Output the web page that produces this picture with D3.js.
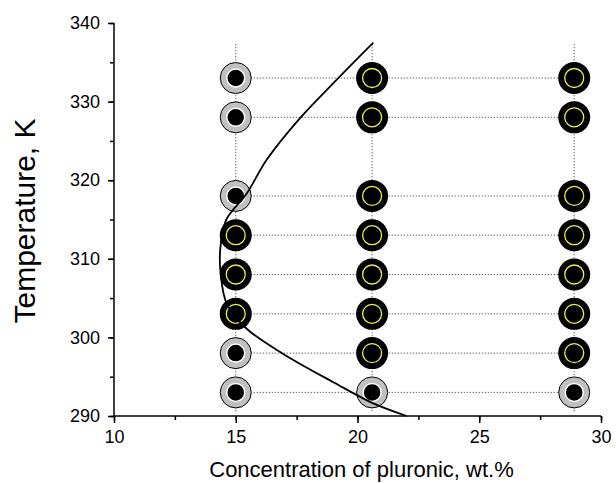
<!DOCTYPE html>
<html>
<head>
<meta charset="utf-8">
<script src="https://cdn.jsdelivr.net/npm/d3@7"></script>
<style>
  body { margin: 0; background: #fff; }
  text { font-family: "Liberation Sans", Arial, sans-serif; fill: #000; }
</style>
</head>
<body>
<div id="chart-container"></div>
<script>
// Chart data
const concentrations = [15, 20.6, 28.9];
const temperatures = [293, 298, 303, 308, 313, 318, 328, 333];
// phase of each point per column ("sol" = grey ring, "gel" = black with yellow ring)
const phase15 = ["sol", "sol", "gel", "gel", "gel", "sol", "sol", "sol"];
const phase206 = ["sol", "gel", "gel", "gel", "gel", "gel", "gel", "gel"];
const phase289 = ["sol", "gel", "gel", "gel", "gel", "gel", "gel", "gel"];
const phases = [phase15, phase206, phase289];

// boundary curve, read along its length
const curveConc = [20.65, 19.15, 17.64, 16.27, 15.45, 14.6, 14.36, 14.38, 14.63, 15.45, 16.95, 19.01, 20.65, 22.02];
const curveTemp = [337.5, 332.8, 327.9, 322.6, 318.3, 314.9, 311.1, 308.1, 304.3, 301.1, 297.9, 294.3, 291.6, 290.0];

const xTicks = [10, 15, 20, 25, 30];
const yTicks = [290, 300, 310, 320, 330, 340];

// Declare the chart dimensions and margins.
const width = 616;
const height = 483;
const marginTop = 23;
const marginRight = 15;
const marginBottom = 67;
const marginLeft = 114;

const x = d3.scaleLinear()
    .domain([10, 30])
    .range([marginLeft, width - marginRight]);

const y = d3.scaleLinear()
    .domain([290, 340])
    .range([height - marginBottom, marginTop]);

const svg = d3.create("svg")
    .attr("width", width)
    .attr("height", height);

// dotted guide lines
const guides = svg.append("g")
    .attr("stroke", "#333")
    .attr("stroke-width", 1)
    .attr("stroke-dasharray", "1,2");

guides.selectAll("line.h")
  .data(temperatures)
  .join("line")
    .attr("class", "h")
    .attr("x1", x(concentrations[0]))
    .attr("x2", x(concentrations[concentrations.length - 1]))
    .attr("y1", d => y(d))
    .attr("y2", d => y(d));

guides.selectAll("line.v")
  .data(concentrations)
  .join("line")
    .attr("class", "v")
    .attr("x1", d => x(d))
    .attr("x2", d => x(d))
    .attr("y1", y(337.3))
    .attr("y2", y(290.6));

// points
const points = [];
concentrations.forEach((c, i) => {
  temperatures.forEach((t, j) => points.push({c, t, phase: phases[i][j]}));
});

const marks = svg.append("g")
  .selectAll("g")
  .data(points)
  .join("g")
    .attr("transform", d => `translate(${x(d.c)},${y(d.t)})`);

marks.filter(d => d.phase === "sol").call(g => {
  g.append("circle").attr("r", 15.5).attr("fill", "#c0c0c0").attr("stroke", "#000").attr("stroke-width", 1);
  g.append("circle").attr("r", 9).attr("fill", "#000").attr("stroke", "#fff").attr("stroke-width", 1.5);
});

marks.filter(d => d.phase === "gel").call(g => {
  g.append("circle").attr("r", 16).attr("fill", "#000");
  g.append("circle").attr("r", 9.5).attr("fill", "none").attr("stroke", "#ecec50").attr("stroke-width", 1.3);
});

// boundary curve
const line = d3.line()
    .x(i => x(curveConc[i]))
    .y(i => y(curveTemp[i]))
    .curve(d3.curveCatmullRom);

svg.append("path")
    .attr("d", line(d3.range(curveConc.length)))
    .attr("fill", "none")
    .attr("stroke", "#000")
    .attr("stroke-width", 1.8);

// x-axis
const xAxis = svg.append("g")
    .attr("transform", `translate(0,${height - marginBottom})`);
xAxis.call(d3.axisBottom(x).tickValues(d3.range(10, 30.1, 2.5)).tickSize(4).tickFormat(""))
    .call(g => g.select(".domain").remove());
xAxis.append("g")
    .call(d3.axisBottom(x).tickValues(xTicks).tickSize(7).tickPadding(7).tickFormat(d3.format("d")))
    .call(g => g.selectAll("text").attr("font-size", 18).attr("font-family", "Liberation Sans, Arial, sans-serif"));
xAxis.selectAll("line, path").attr("stroke", "#000").attr("stroke-width", 1.5);
xAxis.selectAll(".domain").attr("d", `M${marginLeft},0H${width - marginRight}`);

// y-axis
const yAxis = svg.append("g")
    .attr("transform", `translate(${marginLeft},0)`);
yAxis.call(d3.axisLeft(y).tickValues(d3.range(290, 340.1, 5)).tickSize(4).tickFormat(""))
    .call(g => g.select(".domain").remove());
yAxis.append("g")
    .call(d3.axisLeft(y).tickValues(yTicks).tickSize(6).tickPadding(8).tickFormat(d3.format("d")))
    .call(g => g.selectAll("text").attr("font-size", 18).attr("font-family", "Liberation Sans, Arial, sans-serif"));
yAxis.selectAll("line, path").attr("stroke", "#000").attr("stroke-width", 1.5);
yAxis.selectAll(".domain").attr("d", `M0,${marginTop}V${height - marginBottom}`);

// axis titles
svg.append("text")
    .attr("x", (marginLeft + width - marginRight) / 2 + 4)
    .attr("y", 477)
    .attr("text-anchor", "middle")
    .attr("font-size", 22)
    .text("Concentration of pluronic, wt.%");

svg.append("text")
    .attr("transform", `translate(35,${221}) rotate(-90)`)
    .attr("text-anchor", "middle")
    .attr("font-size", 30)
    .text("Temperature, K");

d3.select("#chart-container").append(() => svg.node());
</script>
</body>
</html>
